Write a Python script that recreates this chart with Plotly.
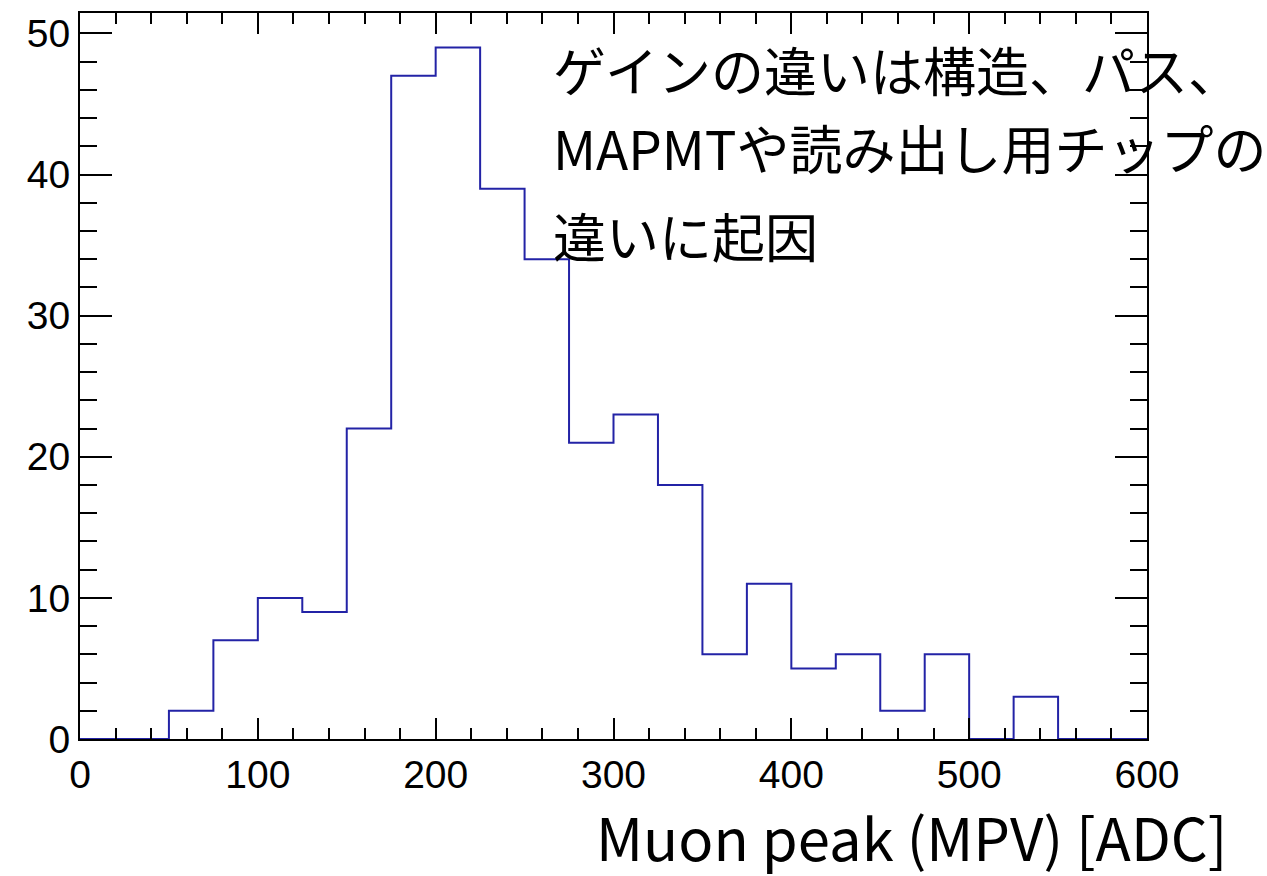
import plotly.graph_objects as go

# Histogram of muon peak positions (MPV), 25 ADC bins from 0 to 600
bin_edges = [i * 25 for i in range(25)]
counts = [0, 0, 2, 7, 10, 9, 22, 47, 49, 39, 34, 21, 23, 18,
          6, 11, 5, 6, 2, 6, 0, 3, 0, 0]
x_title = "Muon peak (MPV) [ADC]"
note_lines = ["ゲインの違いは構造、パス、",
              "MAPMTや読み出し用チップの",
              "違いに起因"]

# step outline: each bin's height held across its width
step_x = bin_edges
step_y = counts + [counts[-1]]

fig = go.Figure()
fig.add_trace(go.Scatter(
    x=step_x, y=step_y, mode="lines",
    line=dict(shape="hv", color="#2323a6", width=2),
    hoverinfo="skip", showlegend=False,
))

axis_common = dict(
    showline=True, linecolor="black", linewidth=2,
    mirror="allticks", ticks="inside", tickcolor="black", tickwidth=2,
    showgrid=False, zeroline=False,
    tickfont=dict(family="Liberation Sans, Arial, sans-serif", size=39, color="black"),
)

fig.update_xaxes(
    range=[0, 600], tickmode="linear", tick0=0, dtick=100, ticklen=21,
    minor=dict(ticks="inside", dtick=20, ticklen=11, tickcolor="black", tickwidth=2, showgrid=False),
    title=None,
    **axis_common,
)
fig.update_yaxes(
    range=[0, 51.45], tickmode="linear", tick0=0, dtick=10, ticklen=32,
    minor=dict(ticks="inside", dtick=2, ticklen=17, tickcolor="black", tickwidth=2, showgrid=False),
    ticklabelstandoff=0,
    **axis_common,
)

# x-axis title, right-aligned under the axis
fig.add_annotation(
    text=x_title, xref="paper", yref="paper", x=(1229 - 80) / 1067, y=(739 - 836) / 726,
    xanchor="right", yanchor="middle", showarrow=False,
    font=dict(family="Noto Sans CJK JP", size=58, color="black"),
)

# explanatory note, one annotation per line for fixed spacing
note_y = [69, 147, 235]
for line, py in zip(note_lines, note_y):
    fig.add_annotation(
        text=line, xref="paper", yref="paper",
        x=(551 - 80) / 1067, y=(739 - py) / 726,
        xanchor="left", yanchor="middle", showarrow=False,
        font=dict(family="Noto Sans CJK JP", size=53, color="black"),
    )

fig.update_layout(
    width=1267, height=876,
    margin=dict(l=80, r=120, t=13, b=137),
    paper_bgcolor="white", plot_bgcolor="white",
)

fig.write_html("out.html")
